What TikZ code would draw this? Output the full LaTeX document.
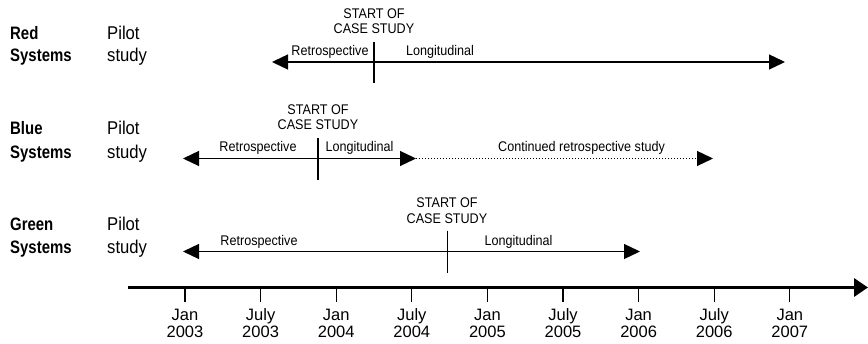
\documentclass[tikz,border=0pt]{standalone}
\usepackage{fontspec}
\setmainfont[FakeStretch=0.9]{Liberation Sans}
\newfontfamily\labbold[FakeStretch=0.83]{Liberation Sans}
\newfontfamily\tickfam{Liberation Sans}
\usetikzlibrary{arrows.meta}
\begin{document}
\begin{tikzpicture}[x=1pt,y=-1pt,
  txt/.style={inner sep=0pt,font=\fontsize{14}{16}\selectfont},
  biglab/.style={inner sep=0pt,anchor=base west,font=\fontsize{18.5}{20}\selectfont},
  boldlab/.style={inner sep=0pt,anchor=base west,font=\labbold\bfseries\fontsize{18}{20}\selectfont},
  ticklab/.style={inner sep=0pt,anchor=base,font=\tickfam\fontsize{16.5}{18}\selectfont},
  span/.style={line width=1.3pt,{Triangle[length=16pt,width=15pt]}-{Triangle[length=16pt,width=15pt]}},
  marker/.style={line width=1.3pt},
  contd/.style={line width=1.3pt,dash pattern=on 1.2pt off 1.8pt,-{Triangle[length=16pt,width=15pt]}},
  axisline/.style={line width=3.3pt,-{Triangle[length=14pt,width=18pt]}},
  tickline/.style={line width=1.3pt}]
\useasboundingbox (0,0) rectangle (868,344);
% row labels
\node[boldlab] (redA) at (10,40) {Red};
\node[boldlab] (redB) at (10,61.7) {Systems};
\node[biglab] (redC) at (107,40) {Pilot};
\node[biglab] (redD) at (107,61.7) {study};
\node[boldlab] (blueA) at (10,135) {Blue};
\node[boldlab] (blueB) at (10,158.3) {Systems};
\node[biglab] (blueC) at (107,135) {Pilot};
\node[biglab] (blueD) at (107,158.3) {study};
\node[boldlab] (greenA) at (10,230.5) {Green};
\node[boldlab] (greenB) at (10,254) {Systems};
\node[biglab] (greenC) at (107,230.5) {Pilot};
\node[biglab] (greenD) at (107,254) {study};
% Red row
\coordinate (rL) at (272,62);
\coordinate (rR) at (785,62);
\coordinate (rMt) at (374,42);
\coordinate (rMb) at (374,83);
\draw[span] (rL) -- (rR);
\draw[marker] (rMt) -- (rMb);
\node[txt,anchor=base] (rS1) at (374,18.5) {START OF};
\node[txt,anchor=base] (rS2) at (374,33.5) {CASE STUDY};
\node[txt,anchor=base] (rRet) at (330,56) {Retrospective};
\node[txt,anchor=base] (rLon) at (440,56) {Longitudinal};
% Blue row
\coordinate (bL) at (183,158.5);
\coordinate (bM) at (416,158.5);
\coordinate (bR) at (713,158.5);
\coordinate (bMt) at (318,138);
\coordinate (bMb) at (318,180);
\draw[span] (bL) -- (bM);
\draw[contd] (bM) -- (bR);
\draw[marker] (bMt) -- (bMb);
\node[txt,anchor=base] (bS1) at (318,114.5) {START OF};
\node[txt,anchor=base] (bS2) at (318,130) {CASE STUDY};
\node[txt,anchor=base] (bRet) at (258,152) {Retrospective};
\node[txt,anchor=base] (bLon) at (359.5,152) {Longitudinal};
\node[txt,anchor=base] (bCon) at (581.5,152) {Continued retrospective study};
% Green row
\coordinate (gL) at (183,251.5);
\coordinate (gR) at (640,251.5);
\coordinate (gMt) at (447.5,230.7);
\coordinate (gMb) at (447.5,273);
\draw[span] (gL) -- (gR);
\draw[marker] (gMt) -- (gMb);
\node[txt,anchor=base] (gS1) at (447,208) {START OF};
\node[txt,anchor=base] (gS2) at (447,223.3) {CASE STUDY};
\node[txt,anchor=base] (gRet) at (259,245.5) {Retrospective};
\node[txt,anchor=base] (gLon) at (518.5,245.5) {Longitudinal};
% time axis
\coordinate (aL) at (128,287.5);
\coordinate (aR) at (868,287.5);
\draw[axisline] (aL) -- (aR);
\foreach \i/\m/\yr in {0/Jan/2003,1/July/2003,2/Jan/2004,3/July/2004,4/Jan/2005,5/July/2005,6/Jan/2006,7/July/2006,8/Jan/2007}{
  \coordinate (t\i a) at ({185+75.6*\i},287.5);
  \coordinate (t\i b) at ({185+75.6*\i},301.7);
  \draw[tickline] (t\i a) -- (t\i b);
  \node[ticklab] (m\i) at ({185+75.6*\i},321) {\m};
  \node[ticklab] (y\i) at ({185+75.6*\i},338) {\yr};
}
\end{tikzpicture}
\end{document}
